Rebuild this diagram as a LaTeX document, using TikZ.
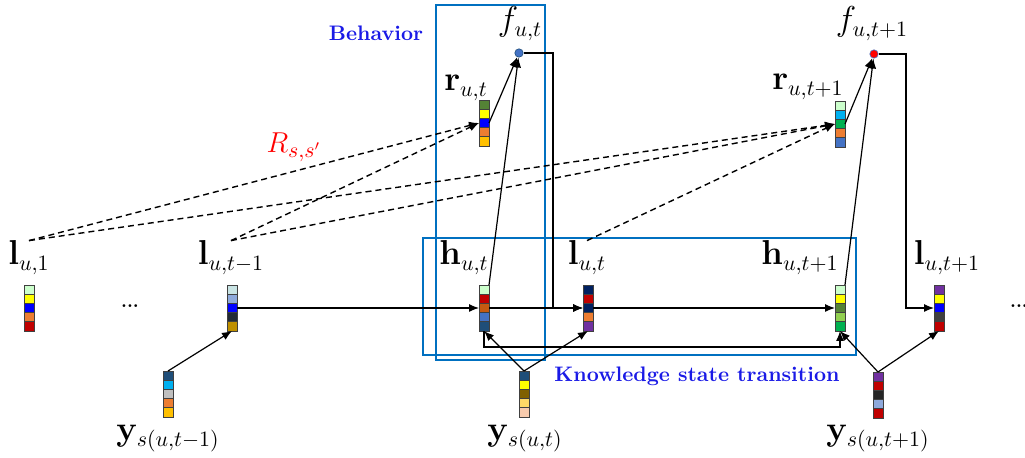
\documentclass[tikz,border=0pt]{standalone}
\usetikzlibrary{calc,arrows.meta}
\definecolor{kblue}{HTML}{0070C0}
\definecolor{klab}{HTML}{1A1AE6}
\definecolor{lgreen}{HTML}{CCFFCC}
\definecolor{yel}{HTML}{FFFF00}
\definecolor{pblue}{HTML}{0000FF}
\definecolor{orng}{HTML}{ED7D31}
\definecolor{dred}{HTML}{C00000}
\definecolor{lblgr}{HTML}{C9E4E4}
\definecolor{steel}{HTML}{8EA9DB}
\definecolor{darkk}{HTML}{222A35}
\definecolor{dgold}{HTML}{BF9000}
\definecolor{navyb}{HTML}{1F4E79}
\definecolor{cyanb}{HTML}{00B0F0}
\definecolor{grayb}{HTML}{BFBFBF}
\definecolor{gold}{HTML}{FFC000}
\definecolor{dgreen}{HTML}{548235}
\definecolor{dorng}{HTML}{C55A11}
\definecolor{mblue}{HTML}{4472C4}
\definecolor{navy}{HTML}{002060}
\definecolor{purp}{HTML}{7030A0}
\definecolor{brown}{HTML}{7F6000}
\definecolor{lgold}{HTML}{FFD966}
\definecolor{peach}{HTML}{F8CBAD}
\definecolor{green}{HTML}{00B050}
\definecolor{lime}{HTML}{92D050}
\definecolor{dgray}{HTML}{404040}
\definecolor{blk}{HTML}{262626}
\tikzset{
  vec/.style={minimum width=5pt, minimum height=23pt, inner sep=0pt, outer sep=0pt},
  cell/.style={draw=black!75, line width=0.4pt},
  lab/.style={anchor=base, inner sep=0pt, font=\fontsize{16}{19}\selectfont},
  arr/.style={-{Latex[length=5pt,width=4pt]}, line width=0.6pt},
  dsh/.style={arr, dash pattern=on 3pt off 2pt, line width=0.7pt},
  bbox/.style={draw=kblue, line width=1.2pt},
  blab/.style={text=klab, inner sep=0pt, font=\fontsize{10.5}{12}\selectfont\bfseries},
  fdot/.style={circle, inner sep=0pt, minimum size=4.2pt, line width=0.3pt},
  dots/.style={inner sep=0pt, font=\fontsize{9}{10}\selectfont\bfseries},
}
\newcommand\vecc[3]{%
  \node[vec] (#1) at (#2) {};
  \foreach \cc [count=\i] in {#3} {
    \draw[cell, fill=\cc] ($(#1.north west)+(0,{(\i-1)*9.2})$) rectangle ++(10,9.2);
  }
}
\begin{document}
\begin{tikzpicture}[x=0.5pt,y=-0.5pt]
\useasboundingbox (0,0) rectangle (1025,458);
% blue boxes
\draw[bbox] (436,5) rectangle (545,360);
\draw[bbox] (423,238) rectangle (856,355);
\node[blab] (beh) at (376,33) {Behavior};
\node[blab] (kst) at (697,376) {Knowledge state transition};
% vectors
\vecc{l1}{29,308}{lgreen,yel,pblue,orng,dred}
\vecc{lt1}{232,308}{lblgr,steel,pblue,darkk,dgold}
\vecc{ys1}{168,394}{navyb,cyanb,grayb,orng,gold}
\vecc{rt}{484,123}{dgreen,yel,pblue,orng,gold}
\vecc{ht}{484,308}{lgreen,dred,dorng,mblue,navyb}
\vecc{lt}{588,308}{navy,dred,navy,orng,purp}
\vecc{yt}{524,394}{navyb,yel,brown,lgold,peach}
\vecc{rtp}{840,124}{lgreen,cyanb,green,orng,mblue}
\vecc{htp}{840,308}{lgreen,yel,dgreen,lime,green}
\vecc{ltp}{939,308}{purp,yel,pblue,dgray,dred}
\vecc{ytp}{878,395}{purp,dred,blk,steel,dred}
% f nodes
\node[fdot, fill=mblue, draw=navyb] (ft) at (519,53) {};
\node[fdot, fill=red, draw=mblue] (ftp) at (874,54) {};
% labels
\node[lab] (Ll1) at (29,265) {$\mathbf{l}_{u,1}$};
\node[lab] (Llt1) at (231,265) {$\mathbf{l}_{u,t-1}$};
\node[lab] (Lht) at (464,265) {$\mathbf{h}_{u,t}$};
\node[lab] (Llt) at (587,265) {$\mathbf{l}_{u,t}$};
\node[lab] (Lhtp) at (800,265) {$\mathbf{h}_{u,t+1}$};
\node[lab] (Lltp) at (947,265) {$\mathbf{l}_{u,t+1}$};
\node[lab] (Lrt) at (466,91) {$\mathbf{r}_{u,t}$};
\node[lab] (Lrtp) at (808,90) {$\mathbf{r}_{u,t+1}$};
\node[lab] (Lft) at (520,31) {$f_{u,t}$};
\node[lab] (Lftp) at (872,31) {$f_{u,t+1}$};
\node[lab] (Lys1) at (168,441) {$\mathbf{y}_{s(u,t-1)}$};
\node[lab] (Lyt) at (525,441) {$\mathbf{y}_{s(u,t)}$};
\node[lab] (Lytp) at (878,441) {$\mathbf{y}_{s(u,t+1)}$};
\node[lab, text=red, font=\fontsize{15}{18}\selectfont] (Rss) at (294,153) {$R_{s,s'}$};
\node[dots] (d1) at (130,306) {...};
\node[dots] (d2) at (1019,306) {...};
% dashed relations
\draw[dsh] (Ll1.north) -- (rt.west);
\draw[dsh] (Ll1.north) -- (rtp.west);
\draw[dsh] (Llt1.north) -- (rt.west);
\draw[dsh] (Llt1.north) -- (rtp.west);
\draw[dsh] (Llt.north) -- (rtp.west);
% horizontal chain
\draw[arr] (lt1.east) -- (ht.west);
\draw[arr] (ht.east) -- (lt.west);
\draw[arr] (lt.east) -- (htp.west);
% f to l
\draw[arr] (ft.east) -| ($(lt.west)+(-30,0)$) -- (lt.west);
\draw[arr] (ftp.east) -| ($(ltp.west)+(-28,0)$) -- (ltp.west);
% to f
\draw[arr] (rt.east) -- (ft);
\draw[arr] (ht.north east) -- (ft);
\draw[arr] (rtp.east) -- (ftp);
\draw[arr] (htp.north east) -- (ftp);
% y inputs
\draw[arr] (ys1.north) -- (lt1.south);
\draw[arr] (yt.north) -- (ht.south);
\draw[arr] (yt.north) -- (lt.south);
\draw[arr] (ytp.north) -- (htp.south);
\draw[arr] (ytp.north) -- (ltp.south);
% h to h
\draw[arr] (ht.south) -- ++(0,16) -| (htp.south);
\end{tikzpicture}
\end{document}
